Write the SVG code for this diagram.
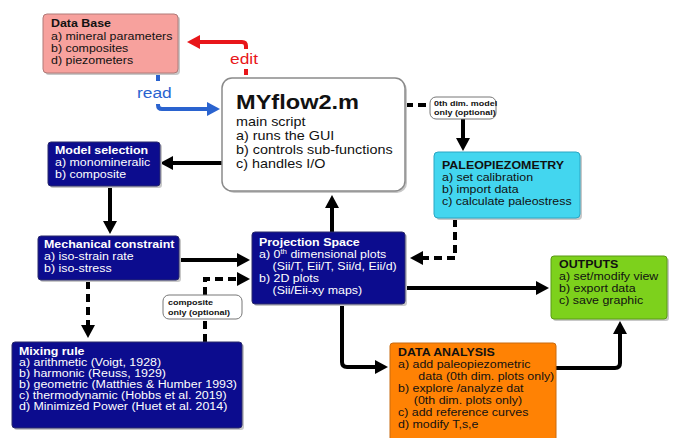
<svg xmlns="http://www.w3.org/2000/svg" width="673" height="438" viewBox="0 0 673 438">
<defs>
<style>
text{font-family:"Liberation Sans",Arial,sans-serif;font-size:11px;fill:#111}
.b{font-weight:bold}
.w text,.w{fill:#fff}
.lab{font-size:8px;font-weight:bold}
.sh{fill:#c8c8c8}
.navy{fill:#0c0c8e;stroke:#2a2a6a;stroke-width:1}
.con{fill:none;stroke:#000;stroke-width:4}
.dash{stroke-dasharray:8 5}
</style>
<marker id="ah" markerUnits="userSpaceOnUse" markerWidth="14" markerHeight="14" refX="8" refY="7" orient="auto"><path d="M0,0 L13,7 L0,14 Z" fill="#000"/></marker>
<marker id="ahr" markerUnits="userSpaceOnUse" markerWidth="14" markerHeight="14" refX="8" refY="7" orient="auto"><path d="M0,0 L13,7 L0,14 Z" fill="#e8161a"/></marker>
<marker id="ahb" markerUnits="userSpaceOnUse" markerWidth="14" markerHeight="14" refX="8" refY="7" orient="auto"><path d="M0,0 L13,7 L0,14 Z" fill="#2a63cf"/></marker>
</defs>
<rect width="673" height="438" fill="#fff"/>

<g id="connectors">
<path d="M246,69 V75" stroke="#e8161a" stroke-width="4" fill="none"/>
<path d="M246,49 V46 Q246,42 242,42 H192" stroke="#e8161a" stroke-width="4" fill="none" marker-end="url(#ahr)"/>
<path d="M158,75 V81" stroke="#2a63cf" stroke-width="4" fill="none"/>
<path d="M158,104 V105 Q158,109 162,109 H215" stroke="#2a63cf" stroke-width="4" fill="none" marker-end="url(#ahb)"/>
<path class="con" d="M222,163 H165" marker-end="url(#ah)"/>
<path class="con" d="M110,187 V229" marker-end="url(#ah)"/>
<path class="con" d="M180,260 H245" marker-end="url(#ah)"/>
<path class="con dash" d="M88,281 V333" marker-end="url(#ah)"/>
<path class="con dash" d="M205,342 V319"/>
<path class="con dash" d="M205,295 V279 H245" marker-end="url(#ah)"/>
<path class="con" d="M332,232 V200" marker-end="url(#ah)"/>
<path class="con dash" d="M405,105 H430"/>
<path class="con" d="M463,119 V146" marker-end="url(#ah)"/>
<path class="con dash" d="M455,219 V258 H415" marker-end="url(#ah)"/>
<path class="con" d="M406,288 H544" marker-end="url(#ah)"/>
<path class="con" d="M342,304 V362 Q342,367 347,367 H383" marker-end="url(#ah)"/>
<path class="con" d="M556,368 H615 Q620,368 620,363 V326" marker-end="url(#ah)"/>
</g>

<g id="edit-label"><text x="230" y="64" style="font-size:15.5px;fill:#e8161a" transform="translate(230,0) scale(1.12,1) translate(-230,0)">edit</text></g>
<g id="read-label"><text x="137" y="98" style="font-size:15.5px;fill:#2a63cf" transform="translate(137,0) scale(1.12,1) translate(-137,0)">read</text></g>

<g id="database">
<rect x="45" y="16" width="135" height="59" rx="4" class="sh"/>
<rect x="43" y="14" width="135" height="59" rx="4" fill="#f7a19d" stroke="#b07a78"/>
<g transform="translate(51,0) scale(1.13,1)">
<text x="0" y="27" class="b">Data Base</text>
<text x="0" y="40">a) mineral parameters</text>
<text x="0" y="52">b) composites</text>
<text x="0" y="64">d) piezometers</text>
</g>
</g>

<g id="myflow">
<rect x="224" y="80" width="183" height="113" rx="10" class="sh"/>
<rect x="222" y="78" width="183" height="113" rx="10" fill="#fff" stroke="#8a8a8a" stroke-width="1.5"/>
<g transform="translate(236,0) scale(1.15,1)">
<text x="0" y="109" class="b" style="font-size:20.5px">MYflow2.m</text>
<text x="0" y="126" style="font-size:12.5px">main script</text>
<text x="0" y="140" style="font-size:12.5px">a) runs the GUI</text>
<text x="0" y="154" style="font-size:12.5px">b) controls sub-functions</text>
<text x="0" y="168" style="font-size:12.5px">c) handles I/O</text>
</g>
</g>

<g id="label-0th">
<rect x="430" y="97" width="66" height="22" rx="6" fill="#fff" stroke="#777"/>
<g transform="translate(434,0) scale(1.12,1)">
<text x="0" y="106.5" class="lab">0th dim. model</text>
<text x="0" y="115.5" class="lab">only (optional)</text>
</g>
</g>

<g id="paleo">
<rect x="436" y="154" width="146" height="66" rx="4" class="sh"/>
<rect x="434" y="152" width="146" height="66" rx="4" fill="#43d6ef" stroke="#2aa6c4"/>
<g transform="translate(442,0) scale(1.13,1)">
<text x="0" y="169" class="b">PALEOPIEZOMETRY</text>
<text x="0" y="181">a) set calibration</text>
<text x="0" y="193">b) import data</text>
<text x="0" y="205">c) calculate paleostress</text>
</g>
</g>

<g id="model-selection">
<rect x="50" y="144" width="112" height="44" rx="3" class="sh"/>
<rect x="48" y="142" width="112" height="44" rx="3" class="navy"/>
<g transform="translate(55,0) scale(1.13,1)" class="w">
<text x="0" y="154" class="b">Model selection</text>
<text x="0" y="166">a) monomineralic</text>
<text x="0" y="178">b) composite</text>
</g>
</g>

<g id="mechanical">
<rect x="40" y="238" width="141" height="44" rx="3" class="sh"/>
<rect x="38" y="236" width="141" height="44" rx="3" class="navy"/>
<g transform="translate(44,0) scale(1.13,1)" class="w">
<text x="0" y="248" class="b">Mechanical constraint</text>
<text x="0" y="260">a) iso-strain rate</text>
<text x="0" y="272">b) iso-stress</text>
</g>
</g>

<g id="projection">
<rect x="254" y="234" width="153" height="72" rx="3" class="sh"/>
<rect x="252" y="232" width="153" height="72" rx="3" class="navy"/>
<g transform="translate(259,0) scale(1.13,1)" class="w">
<text x="0" y="246" class="b">Projection Space</text>
<text x="0" y="258">a) 0<tspan dy="-4" style="font-size:7px">th</tspan><tspan dy="4"> dimensional plots</tspan></text>
<text x="12" y="270">(Sii/T, Eii/T, Sii/d, Eii/d)</text>
<text x="0" y="282">b) 2D plots</text>
<text x="12" y="294">(Sii/Eii-xy maps)</text>
</g>
</g>

<g id="label-composite">
<rect x="163" y="295" width="79" height="24" rx="6" fill="#fff" stroke="#777"/>
<g transform="translate(168,0) scale(1.13,1)">
<text x="0" y="305" class="lab">composite</text>
<text x="0" y="315" class="lab">only (optional)</text>
</g>
</g>

<g id="mixing">
<rect x="14" y="344" width="230" height="86" rx="3" class="sh"/>
<rect x="12" y="342" width="230" height="86" rx="3" class="navy"/>
<g transform="translate(19,0) scale(1.13,1)" class="w">
<text x="0" y="355" class="b">Mixing rule</text>
<text x="0" y="366">a) arithmetic (Voigt, 1928)</text>
<text x="0" y="377">b) harmonic (Reuss, 1929)</text>
<text x="0" y="388">b) geometric (Matthies &amp; Humber 1993)</text>
<text x="0" y="399">c) thermodynamic (Hobbs et al. 2019)</text>
<text x="0" y="410">d) Minimized Power (Huet et al. 2014)</text>
</g>
</g>

<g id="outputs">
<rect x="553" y="258" width="116" height="63" rx="3" class="sh"/>
<rect x="551" y="256" width="116" height="63" rx="3" fill="#7dd11c" stroke="#5a9a14"/>
<g transform="translate(559,0) scale(1.13,1)">
<text x="0" y="268" class="b">OUTPUTS</text>
<text x="0" y="280">a) set/modify view</text>
<text x="0" y="292">b) export data</text>
<text x="0" y="304">c) save graphic</text>
</g>
</g>

<g id="data-analysis">
<rect x="390" y="343" width="166" height="100" rx="3" fill="#ff8204" stroke="#c86a10"/>
<g transform="translate(398,0) scale(1.13,1)">
<text x="0" y="356" class="b">DATA ANALYSIS</text>
<text x="0" y="368">a) add paleopiezometric</text>
<text x="18" y="380">data (0th dim. plots only)</text>
<text x="0" y="392">b) explore /analyze dat</text>
<text x="14" y="404">(0th dim. plots only)</text>
<text x="0" y="416">c) add reference curves</text>
<text x="0" y="428">d) modify T,s,e</text>
</g>
</g>
</svg>
